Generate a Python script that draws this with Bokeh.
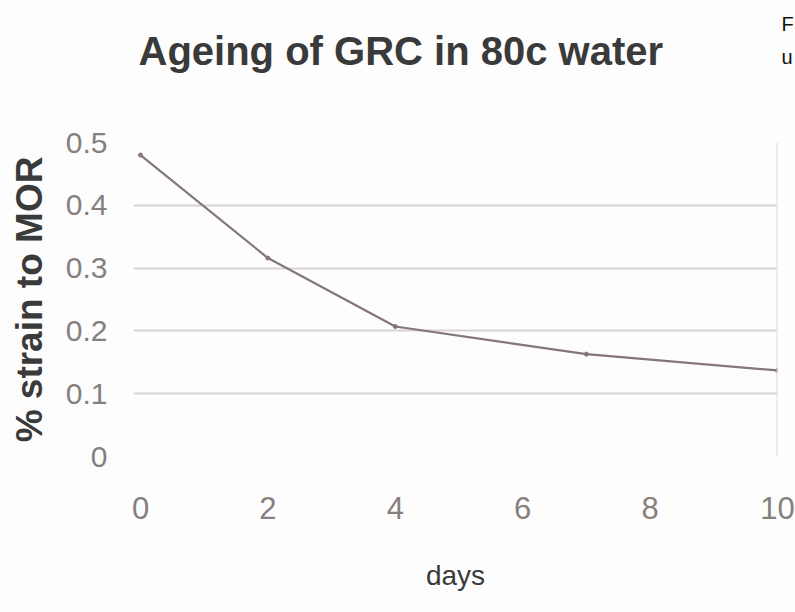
from bokeh.plotting import figure
from bokeh.models import Range1d, FixedTicker, Span, Label
from bokeh.embed import file_html
from bokeh.resources import INLINE

# Data
days = [0, 2, 4, 7, 10]
strain = [0.48, 0.316, 0.207, 0.163, 0.137]

x_ticks = [0, 2, 4, 6, 8, 10]
y_ticks = [0, 0.1, 0.2, 0.3, 0.4, 0.5]
y_tick_labels = ["0", "0.1", "0.2", "0.3", "0.4", "0.5"]

title_text = "Ageing of GRC in 80c water"
x_label = "days"
y_label = "% strain to MOR"
margin_texts = ["F", "u"]

FONT = "Liberation Sans"

p = figure(width=795, height=612, output_backend="svg", toolbar_location=None,
           x_range=Range1d(-0.11, 10), y_range=Range1d(0, 0.5),
           min_border_left=133, min_border_right=18,
           min_border_top=142, min_border_bottom=156)

p.background_fill_color = "#fdfdfd"
p.border_fill_color = "#fdfdfd"
p.outline_line_color = None

p.title.text = title_text
p.title.text_font = FONT
p.title.text_font_size = "40px"
p.title.text_font_style = "bold"
p.title.text_color = "#3a3a3a"
p.title.align = "left"
p.title.offset = 5
p.title.vertical_align = "top"
p.title.standoff = 48

p.line(days, strain, line_color="#857678", line_width=2.2)
p.scatter(days, strain, size=4, color="#857678")

p.xaxis.ticker = FixedTicker(ticks=x_ticks)
p.yaxis.ticker = FixedTicker(ticks=y_ticks)
p.yaxis.major_label_overrides = {t: l for t, l in zip(y_ticks, y_tick_labels)}

for ax in (p.xaxis, p.yaxis):
    ax.axis_line_color = None
    ax.major_tick_line_color = None
    ax.minor_tick_line_color = None
    ax.major_label_text_font = FONT
    ax.major_label_text_color = "#858080"
    ax.axis_label_text_font = FONT
    ax.axis_label_text_color = "#3a3a3a"

p.xaxis.axis_label = x_label
p.xaxis.major_label_text_font_size = "31px"
p.xaxis.major_label_standoff = 34
p.xaxis.axis_label_text_font_size = "28px"
p.xaxis.axis_label_text_font_style = "normal"
p.xaxis.axis_label_standoff = 38

p.yaxis.axis_label = y_label
p.yaxis.major_label_text_font_size = "30px"
p.yaxis.major_label_standoff = 20
p.yaxis.axis_label_text_font_size = "37px"
p.yaxis.axis_label_text_font_style = "bold"
p.yaxis.axis_label_standoff = 13

p.xgrid.grid_line_color = None
p.ygrid.grid_line_color = "#d9d2d2"
p.ygrid.grid_line_width = 2

p.add_layout(Span(location=10, dimension="height", line_color="#dcdcdc", line_width=2))

# cut-off words of the surrounding page, at the top right
p.add_layout(Label(x=648, y=119, x_units="screen", y_units="screen", text=margin_texts[0],
                   text_font=FONT, text_font_size="20px", text_baseline="alphabetic",
                   text_color="#111111"), "above")
p.add_layout(Label(x=648, y=64, x_units="screen", y_units="screen", text=margin_texts[1],
                   text_font=FONT, text_font_size="20px", text_baseline="alphabetic",
                   text_color="#111111"), "above")

open("out.html", "w").write(file_html(p, INLINE))
